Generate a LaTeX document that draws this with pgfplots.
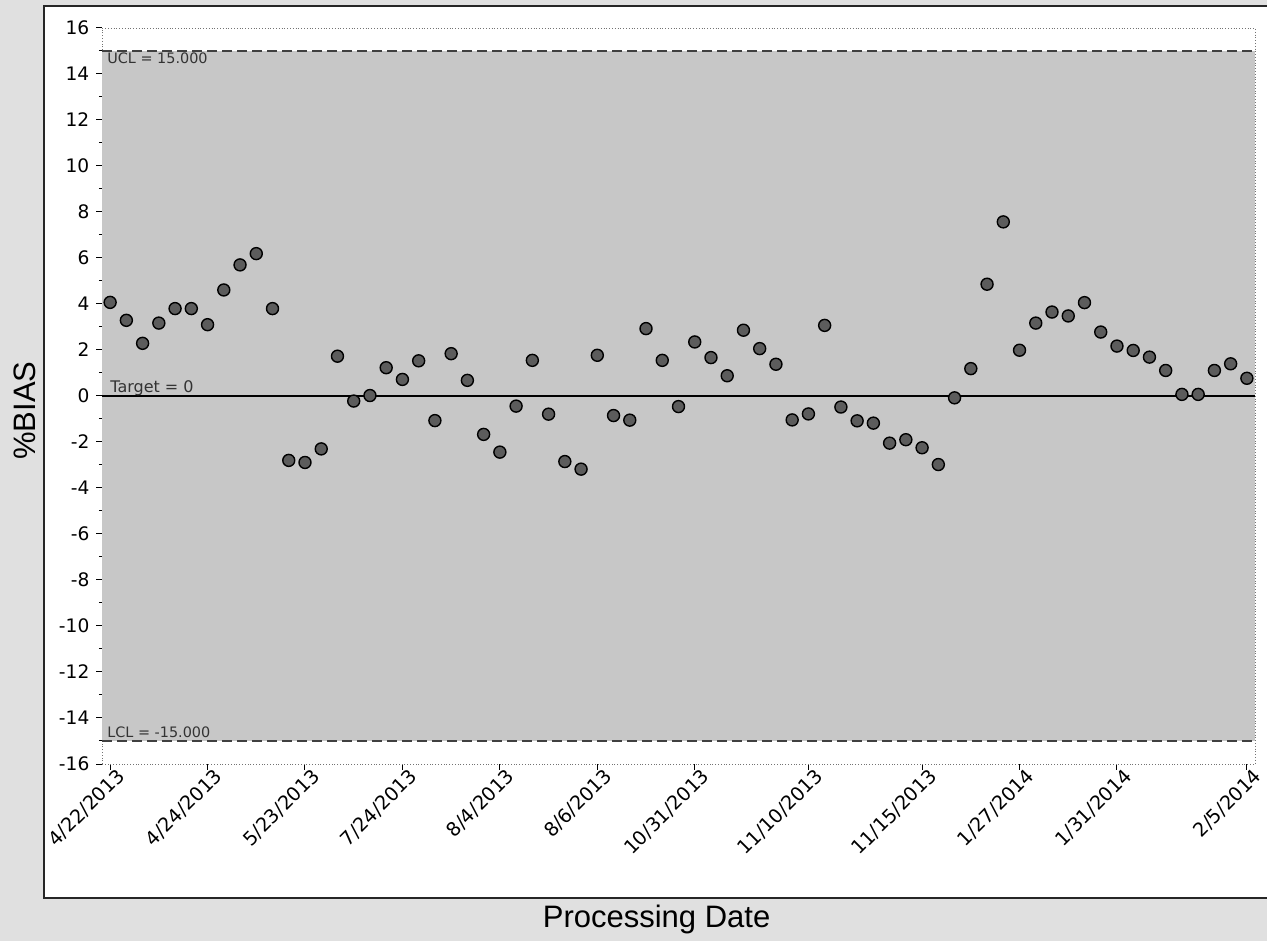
\documentclass[border=0pt]{standalone}
\usepackage{fontspec}
\usepackage{pgfplots}
\usepackage{pgfplotstable}
\pgfplotsset{compat=1.18}
\setmainfont{DejaVu Sans}
\newfontfamily\dejavu{DejaVu Sans}
\newfontfamily\arial{Liberation Sans}
\definecolor{pagegray}{gray}{0.88}
\definecolor{bandgray}{gray}{0.78}
\definecolor{markfill}{gray}{0.36}

\pgfplotstableread{
idx bias
0 4.07
1 3.29
2 2.29
3 3.17
4 3.80
5 3.80
6 3.10
7 4.61
8 5.70
9 6.19
10 3.80
11 -2.80
12 -2.89
13 -2.30
14 1.73
15 -0.22
16 0.02
17 1.23
18 0.72
19 1.53
20 -1.07
21 1.84
22 0.68
23 -1.67
24 -2.44
25 -0.44
26 1.55
27 -0.79
28 -2.85
29 -3.18
30 1.77
31 -0.85
32 -1.05
33 2.93
34 1.55
35 -0.46
36 2.35
37 1.67
38 0.88
39 2.86
40 2.06
41 1.38
42 -1.04
43 -0.78
44 3.07
45 -0.48
46 -1.08
47 -1.18
48 -2.05
49 -1.90
50 -2.25
51 -2.98
52 -0.08
53 1.19
54 4.86
55 7.57
56 1.99
57 3.17
58 3.65
59 3.48
60 4.06
61 2.78
62 2.17
63 1.98
64 1.69
65 1.11
66 0.07
67 0.07
68 1.11
69 1.40
70 0.77
}\biasdata

\begin{document}
\begin{tikzpicture}
\useasboundingbox (0,0) rectangle (633.5pt,470.5pt);
\fill[pagegray] (0,0) rectangle (633.5pt,470.5pt);
\filldraw[fill=white, draw=black!85, line width=0.8pt] (22pt,21.5pt) rectangle (634.5pt,467.5pt);
\begin{axis}[
  at={(51pt,88.5pt)}, anchor=south west,
  scale only axis, width=576.5pt, height=368pt,
  xmin=-0.5, xmax=70.5, ymin=-16, ymax=16,
  xtick={0,6,12,18,24,30,36,43,50,56,62,70},
  xticklabels={4/22/2013,4/24/2013,5/23/2013,7/24/2013,8/4/2013,8/6/2013,10/31/2013,11/10/2013,11/15/2013,1/27/2014,1/31/2014,2/5/2014},
  ytick={-16,-14,...,16},
  yticklabels={-16,-14,-12,-10,-8,-6,-4,-2,0,2,4,6,8,10,12,14,16},
  minor ytick={-15,-13,...,15},
  tick align=outside,
  major tick length=2.8pt, minor tick length=1.6pt,
  tick style={black, solid, line width=0.5pt},
  xtick pos=bottom, ytick pos=left,
  axis line style={black!55, densely dotted, line width=0.4pt},
  x tick label style={rotate=45, anchor=north east, xshift=4pt, font=\dejavu\fontsize{9.6}{11}\selectfont, black, inner sep=1pt},
  y tick label style={font=\dejavu\fontsize{9.3}{10}\selectfont, black},
  xlabel={Processing Date},
  xlabel style={at={(rel axis cs:0.481,-0.2228)}, anchor=base, font=\arial\fontsize{15.5}{16}\selectfont},
  ylabel={\%BIAS},
  ylabel style={at={(rel axis cs:-0.0668,0.48)}, anchor=center, rotate=0, font=\arial\fontsize{15.5}{16}\selectfont},
  clip=false,
]
\fill[bandgray] (axis cs:-0.5,-15) rectangle (axis cs:70.5,15);
\addplot[black!75, line width=0.7pt, dash pattern=on 5pt off 2.5pt, forget plot] coordinates {(-0.5,15) (70.5,15)};
\addplot[black!75, line width=0.7pt, dash pattern=on 5pt off 2.5pt, forget plot] coordinates {(-0.5,-15) (70.5,-15)};
\addplot[black, line width=0.7pt, forget plot] coordinates {(-0.5,0) (70.5,0)};
\node[anchor=north west, inner sep=0.5pt, xshift=2pt, font=\dejavu\fontsize{7.2}{8}\selectfont, text=black!80] at (axis cs:-0.5,15) {UCL = 15.000};
\node[anchor=base west, inner sep=0pt, xshift=4pt, yshift=1.8pt, font=\dejavu\fontsize{8}{9}\selectfont, text=black!80] at (axis cs:-0.5,0) {Target = 0};
\node[anchor=base west, inner sep=0pt, xshift=2.5pt, yshift=1.8pt, font=\dejavu\fontsize{7.2}{8}\selectfont, text=black!80] at (axis cs:-0.5,-15) {LCL = -15.000};
\addplot[only marks, mark=*, mark size=3pt, mark options={fill=markfill, draw=black, line width=0.7pt}] table[x=idx, y=bias] {\biasdata};
\end{axis}
\end{tikzpicture}
\end{document}
